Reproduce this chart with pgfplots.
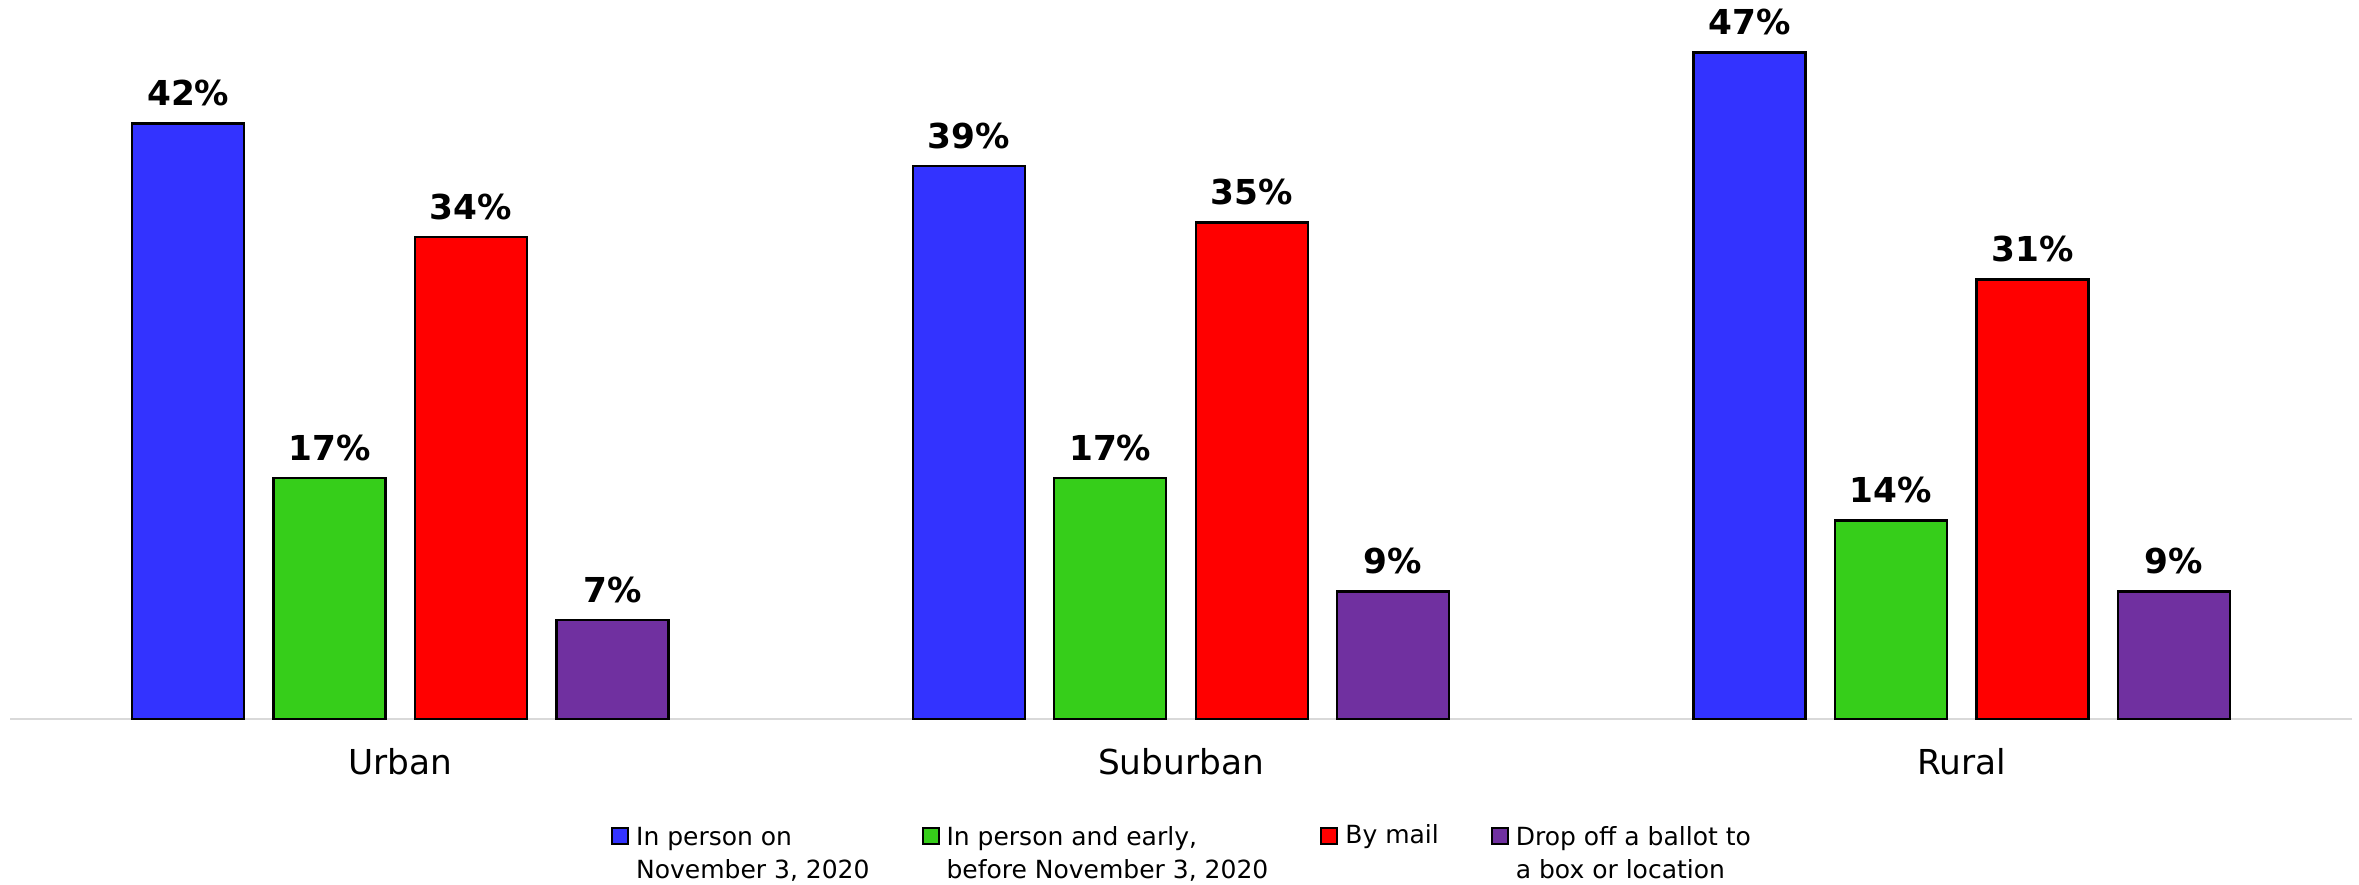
\documentclass[border=0pt]{standalone}
\usepackage{pgfplots}
\pgfplotsset{compat=1.18}
\usepackage{fontspec}
\setmainfont{DejaVu Sans}

\definecolor{cblue}{RGB}{51,51,255}
\definecolor{cgreen}{RGB}{54,206,26}
\definecolor{cred}{RGB}{255,0,0}
\definecolor{cpurple}{RGB}{112,48,160}

\pgfplotstableread{
x inperson early mail dropoff
0 42 17 34 7
1 39 17 35 9
2 47 14 31 9
}\votedata

% two-line legend text hanging from the first line
\newcommand{\twoline}[2]{\begin{tabular}[t]{@{}l@{}}#1\\#2\end{tabular}}

\begin{document}
\begin{tikzpicture}
\begin{axis}[
    width=702.6pt, height=215.7pt, scale only axis,
    xmin=-0.5, xmax=2.5, ymin=0, ymax=50.7,
    ybar, bar width=0.1435,
    axis x line*=bottom, axis y line=none,
    x axis line style={draw=black!15, line width=0.6pt, -},
    xtick={0,1,2}, xticklabels={Urban,Suburban,Rural},
    major tick length=0pt, ytick=\empty,
    xticklabel style={font=\fontsize{10.3}{12}\selectfont, yshift=-5.3pt},
    /pgf/number format/assume math mode=true,
    nodes near coords={\pgfmathprintnumber{\pgfplotspointmeta}\%},
    every node near coord/.append style={font=\fontsize{10.3}{12}\selectfont\bfseries,
        inner sep=0pt, anchor=south, yshift=4.8pt, text=black},
    every axis plot/.append style={draw=black, line width=0.7pt},
    legend columns=4,
    legend cell align=left,
    legend image code/.code={\draw[#1,draw=black,line width=0.6pt] (0pt,-2.5pt) rectangle (4.8pt,2.3pt);},
    legend style={at={(0.5,0)}, anchor=north, yshift=-30.7pt, draw=none,
        inner sep=0pt, font=\fontsize{7.5}{9.9}\selectfont,
        nodes={inner sep=0pt},
        /tikz/every odd column/.append style={column sep=2.1pt},
        /tikz/every even column/.append style={column sep=15.6pt}},
]
\coordinate (sw) at (rel axis cs:0,0);
\coordinate (ne) at (rel axis cs:1,1);
\addplot[fill=cblue, bar shift=-0.2717] table[x=x, y=inperson] {\votedata};
\addlegendentry{\twoline{In person on}{November 3, 2020}}
\addplot[fill=cgreen, bar shift=-0.0906] table[x=x, y=early] {\votedata};
\addlegendentry{\twoline{In person and early,}{before November 3, 2020}}
\addplot[fill=cred, bar shift=0.0906] table[x=x, y=mail] {\votedata};
\addlegendentry{By mail}
\addplot[fill=cpurple, bar shift=0.2717] table[x=x, y=dropoff] {\votedata};
\addlegendentry{\twoline{Drop off a ballot to}{a box or location}}
\end{axis}
\pgfresetboundingbox
\path ([shift={(-3pt,-49.5pt)}]sw) rectangle ([shift={(2.1pt,0pt)}]ne);
\end{tikzpicture}
\end{document}
